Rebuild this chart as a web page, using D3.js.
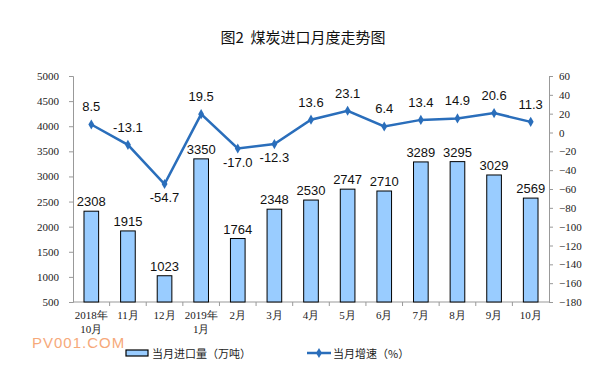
<!DOCTYPE html>
<html>
<head>
<meta charset="utf-8">
<script src="https://cdn.jsdelivr.net/npm/d3@7"></script>
<style>
  body { margin: 0; background: #fff; }
  svg { display: block; }
</style>
</head>
<body>
<svg id="chart" width="607" height="365"></svg>
<script>
// data
const months = [["2018年", "10月"], ["11月"], ["12月"], ["2019年", "1月"], ["2月"], ["3月"], ["4月"],
    ["5月"], ["6月"], ["7月"], ["8月"], ["9月"], ["10月"]];
const imports = [2308, 1915, 1023, 3350, 1764, 2348, 2530, 2747, 2710, 3289, 3295, 3029, 2569];
const growth = [8.5, -13.1, -54.7, 19.5, -17.0, -12.3, 13.6, 23.1, 6.4, 13.4, 14.9, 20.6, 11.3];
const growthLabelBelow = [false, false, true, false, true, true, false, false, false, false, false, false, false];
const leftTicks = [500, 1000, 1500, 2000, 2500, 3000, 3500, 4000, 4500, 5000];
const rightTicks = [-180, -160, -140, -120, -100, -80, -60, -40, -20, 0, 20, 40, 60];

const svg = d3.select("#chart");
const margin = { top: 76, right: 58, bottom: 63, left: 73 };
const width = 607 - margin.left - margin.right;
const height = 365 - margin.top - margin.bottom;

const serif = "'Liberation Serif', 'Times New Roman', serif";
const sans = "'Liberation Sans', Arial, sans-serif";
const cjk = "'Noto Sans CJK SC', sans-serif";
const lineColor = "#2a6ebb";

const g = svg.append("g").attr("transform", `translate(${margin.left},${margin.top})`);

const x = d3.scaleBand().domain(d3.range(months.length)).range([0, width]).paddingInner(0.6).paddingOuter(0.3);
const yL = d3.scaleLinear().domain([500, 5000]).range([height, 0]);
const yR = d3.scaleLinear().domain([-180, 60]).range([height, 0]);

// title
svg.append("text")
    .text("图2\u00a0\u00a0煤炭进口月度走势图")
    .attr("x", 303)
    .attr("y", 43)
    .attr("text-anchor", "middle")
    .attr("font-family", cjk)
    .attr("font-size", 15)
    .attr("fill", "#111");

// left axis
const leftAxis = g.append("g")
    .call(d3.axisLeft(yL).tickValues(leftTicks).tickSize(4).tickPadding(10).tickFormat(d3.format("d")));
leftAxis.selectAll("text").attr("font-family", serif).attr("font-size", 11).attr("fill", "#222");

// right axis
const rightAxis = g.append("g")
    .attr("transform", `translate(${width},0)`)
    .call(d3.axisRight(yR).tickValues(rightTicks).tickSize(4).tickPadding(6));
rightAxis.selectAll("text").attr("font-family", serif).attr("font-size", 11).attr("fill", "#222");

// bottom axis
const step = x.step();
const bottom = g.append("g").attr("transform", `translate(0,${height})`);
bottom.append("line").attr("x1", 0).attr("x2", width).attr("stroke", "#999");
bottom.selectAll(".sep")
    .data(d3.range(1, months.length))
    .join("line")
    .attr("x1", d => d * step).attr("x2", d => d * step)
    .attr("y1", 0).attr("y2", 4)
    .attr("stroke", "#999");
bottom.selectAll(".cat")
    .data(months)
    .join("text")
    .attr("font-family", serif)
    .attr("font-size", 11)
    .attr("fill", "#222")
    .attr("text-anchor", "middle")
    .each(function (d, i) {
        const t = d3.select(this);
        d.forEach((line, k) => {
            t.append("tspan")
                .attr("x", x(i) + x.bandwidth() / 2)
                .attr("y", 17 + k * 14)
                .text(line);
        });
    });
g.selectAll(".domain").attr("stroke", "#999");
g.selectAll(".tick line").attr("stroke", "#999");

// bars
g.selectAll(".bar")
    .data(imports)
    .join("rect")
    .attr("x", (d, i) => x(i))
    .attr("y", d => yL(d))
    .attr("width", x.bandwidth())
    .attr("height", d => height - yL(d))
    .attr("fill", "#99ccff")
    .attr("stroke", "#000")
    .attr("stroke-width", 1);

g.selectAll(".barLabel")
    .data(imports)
    .join("text")
    .text(d => d)
    .attr("x", (d, i) => x(i) + x.bandwidth() / 2)
    .attr("y", d => yL(d) - 5)
    .attr("text-anchor", "middle")
    .attr("font-family", sans)
    .attr("font-size", 13)
    .attr("fill", "#111");

// line
const cx = i => x(i) + x.bandwidth() / 2;
g.append("path")
    .datum(growth)
    .attr("d", d3.line().x((d, i) => cx(i)).y(d => yR(d)))
    .attr("fill", "none")
    .attr("stroke", lineColor)
    .attr("stroke-width", 2.5);

const diamond = d3.symbol().type(d3.symbolDiamond).size(30);
g.selectAll(".marker")
    .data(growth)
    .join("path")
    .attr("d", diamond)
    .attr("transform", (d, i) => `translate(${cx(i)},${yR(d)})`)
    .attr("fill", lineColor);

g.selectAll(".lineLabel")
    .data(growth)
    .join("text")
    .text(d => d.toFixed(1))
    .attr("x", (d, i) => cx(i))
    .attr("y", (d, i) => growthLabelBelow[i] ? yR(d) + 18 : yR(d) - 13)
    .attr("text-anchor", "middle")
    .attr("font-family", sans)
    .attr("font-size", 13)
    .attr("fill", "#111");

// watermark
svg.append("text")
    .text("PV001.COM")
    .attr("x", 32)
    .attr("y", 348)
    .attr("font-family", sans)
    .attr("font-size", 15)
    .attr("letter-spacing", 1)
    .attr("fill", "#f6a97a");

// legend
const legend = svg.append("g");
legend.append("rect")
    .attr("x", 126).attr("y", 350).attr("width", 22).attr("height", 6)
    .attr("fill", "#99ccff").attr("stroke", "#000").attr("stroke-width", 1.2);
legend.append("text")
    .text("当月进口量（万吨）")
    .attr("x", 152).attr("y", 358)
    .attr("font-family", cjk).attr("font-size", 11).attr("fill", "#222");
legend.append("line")
    .attr("x1", 307).attr("x2", 331).attr("y1", 353).attr("y2", 353)
    .attr("stroke", lineColor).attr("stroke-width", 2.5);
legend.append("path")
    .attr("d", diamond)
    .attr("transform", "translate(319,353)")
    .attr("fill", lineColor);
legend.append("text")
    .text("当月增速（%）")
    .attr("x", 333).attr("y", 358)
    .attr("font-family", cjk).attr("font-size", 11).attr("fill", "#222");
</script>
</body>
</html>
